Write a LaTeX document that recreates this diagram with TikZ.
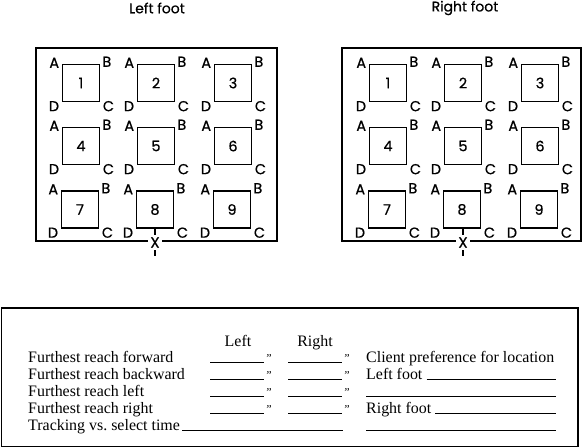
\documentclass[tikz,border=0pt]{standalone}
\usepackage{fontspec}
\setmainfont{Liberation Serif}
\newfontfamily\geofont{Poppins}[FakeBold=0.6]
\usetikzlibrary{positioning,calc}
\tikzset{
  panel/.style ={draw, line width=1.5bp},
  pad/.style   ={draw, line width=1.4bp, minimum width=37bp, minimum height=37bp,
                 inner sep=0pt, font=\geofont\fontsize{14.5}{14.5}\selectfont},
  corner/.style={inner sep=0pt, font=\geofont\fontsize{14.5}{14.5}\selectfont},
  ftitle/.style={font=\geofont\fontsize{14}{14}\selectfont},
  xmark/.style ={fill=white, inner xsep=2.5bp, inner ysep=0.5bp,
                 font=\geofont\fontsize{15}{15}\selectfont},
  tick/.style  ={line width=1.2bp},
  form/.style  ={font=\fontsize{16}{16}\selectfont, inner sep=0pt, anchor=base west},
  blank/.style ={line width=0.8bp},
  inch/.style  ={font=\itshape\fontsize{12}{12}\selectfont, inner sep=0pt, anchor=base west},
}

\begin{document}
\begin{tikzpicture}[x=1bp,y=-1bp]
  \useasboundingbox (0,0) rectangle (585,448);
  % foot panels
  \node[ftitle] (ltitle) at (157,8) {Left foot};
  \node[ftitle] (rtitle) at (465,8) {Right foot};
  \draw[panel] (36,48) rectangle (277,241);
  \draw[panel] (342,48) rectangle (581,241);
  \foreach \side/\xo in {L/0, R/307} {
    \foreach \n/\cx/\cy in {1/81/83, 2/156/83, 3/233/83,
                            4/81/146, 5/156/146, 6/233/146,
                            7/80/209.5, 8/155/209.5, 9/232/209.5} {
      \node[pad] (\side\n) at (\cx+\xo,\cy) {\n};
      \node[corner, anchor=base east] at ($(\side\n.north west)+(-2.5,4)$) {A};
      \node[corner, anchor=base west] at ($(\side\n.north east)+(2,3)$) {B};
      \node[corner, anchor=base west] at ($(\side\n.south east)+(2.5,9)$) {C};
      \node[corner, anchor=base east] at ($(\side\n.south west)+(-2.5,9)$) {D};
    }
  }
  \node[xmark] (xl) at (155,242.5) {X};
  \node[xmark] (xr) at (463,242.5) {X};
  \foreach \x in {xl, xr} {
    \draw[tick] ([yshift=2bp]\x.north) -- ++(0,-6);
    \draw[tick] ([yshift=-2bp]\x.south) -- ++(0,6);
  }

  % reach form
  \draw[line width=1.5bp] (1.5,308) rectangle (578,446.5);
  \node[form, anchor=base] (lhead) at (238,346) {Left};
  \node[form, anchor=base] (rhead) at (315,346) {Right};
  \foreach \i/\dir in {1/forward, 2/backward, 3/left, 4/right} {
    \node[form] (reach\i) at (28,{345+17*\i}) {Furthest reach \dir};
    \draw[blank] (210,{345+17*\i}) -- (264,{345+17*\i});
    \draw[blank] (288,{345+17*\i}) -- (342,{345+17*\i});
    \node[inch] at (265,{345+17*\i}) {"};
    \node[inch] at (343,{345+17*\i}) {"};
  }
  \node[form] (track) at (28,430) {Tracking vs.\ select time};
  \draw[blank] ([xshift=2bp]track.base east) -- (343,430);
  \node[form] (pref) at (366,362) {Client preference for location};
  \node[form] (lfoot) at (366,379) {Left foot};
  \draw[blank] ([xshift=4bp]lfoot.base east) -- (556,379);
  \draw[blank] (366,396) -- (556,396);
  \node[form] (rfoot) at (366,413) {Right foot};
  \draw[blank] ([xshift=4bp]rfoot.base east) -- (556,413);
  \draw[blank] (366,430) -- (556,430);
\end{tikzpicture}
\end{document}
